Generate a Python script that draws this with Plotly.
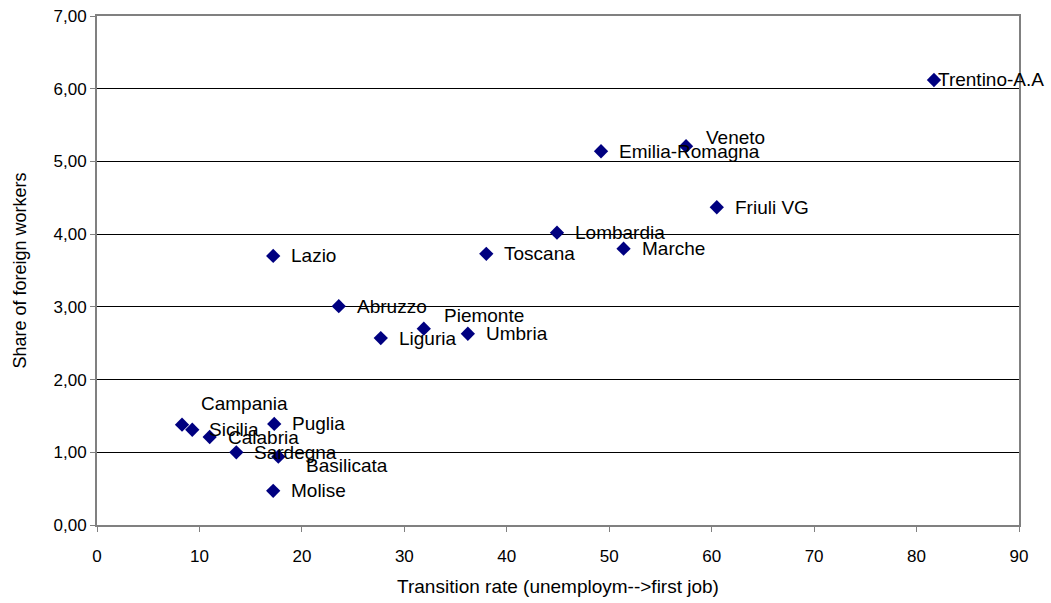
import plotly.graph_objects as go

regions = ["Trentino-A.A", "Veneto", "Emilia-Romagna", "Friuli VG", "Lombardia", "Marche",
           "Toscana", "Lazio", "Abruzzo", "Piemonte", "Umbria", "Liguria", "Campania",
           "Sicilia", "Puglia", "Calabria", "Sardegna", "Basilicata", "Molise"]
transition_rate = [81.7, 57.5, 49.2, 60.5, 44.9, 51.4, 38.0, 17.2, 23.6, 31.9, 36.2, 27.7,
                   8.3, 9.3, 17.3, 11.0, 13.6, 17.7, 17.2]
foreign_share = [6.12, 5.21, 5.14, 4.37, 4.02, 3.80, 3.73, 3.70, 3.01, 2.70, 2.63, 2.57,
                 1.38, 1.31, 1.39, 1.21, 1.00, 0.94, 0.47]

# label offsets (pixels): xshift, yshift
label_shift = {
    "Trentino-A.A": (2, 0), "Veneto": (18, 9), "Piemonte": (18, 13),
    "Campania": (17, 21), "Basilicata": (26, -9), "Sicilia": (15, 0),
}

FONT = "Liberation Sans, Arial, sans-serif"

fig = go.Figure()
fig.add_trace(go.Scatter(
    x=transition_rate, y=foreign_share, mode="markers",
    marker=dict(symbol="diamond", size=11, color="#000080"),
    hoverinfo="text", text=regions, showlegend=False, cliponaxis=False,
))

for name, xv, yv in zip(regions, transition_rate, foreign_share):
    xs, ys = label_shift.get(name, (16, 0))
    fig.add_annotation(x=xv, y=yv, text=name, showarrow=False, xanchor="left",
                       yanchor="middle", xshift=xs, yshift=ys,
                       font=dict(family=FONT, size=19, color="black"))

fig.update_layout(
    width=1051, height=603,
    margin=dict(l=97, r=32, t=16, b=78, autoexpand=False),
    paper_bgcolor="white", plot_bgcolor="white",
    separators=",.",
    font=dict(family=FONT, size=17, color="black"),
    xaxis=dict(range=[0, 90], dtick=10, tick0=0, showgrid=False, zeroline=False,
               automargin=False,
               showline=True, linecolor="#808080", linewidth=2, mirror=True,
               ticks="outside", ticklen=5, tickcolor="#808080",
               ticklabelstandoff=10,
               title=dict(text="Transition rate (unemploym-->first job)", font=dict(size=19), standoff=14),
               tickfont=dict(size=17)),
    yaxis=dict(range=[0, 7], dtick=1, tick0=0, tickformat=".2f", showgrid=True,
               gridcolor="black", gridwidth=1, zeroline=False,
               automargin=False,
               showline=True, linecolor="#808080", linewidth=2, mirror=True,
               ticks="outside", ticklen=5, tickcolor="#808080",
               title=dict(text="Share of foreign workers", font=dict(size=18), standoff=22),
               tickfont=dict(size=17)),
)

fig.write_html("out.html", config={"displayModeBar": False},
               post_script="document.body.style.margin='0';document.body.style.overflow='hidden';")
